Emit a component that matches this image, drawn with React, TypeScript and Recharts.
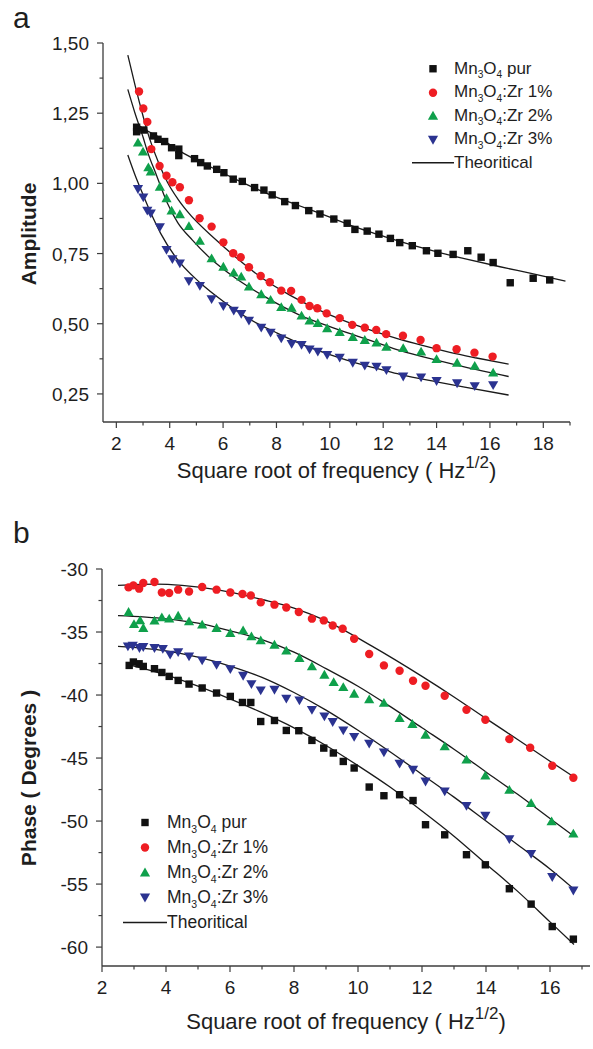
import React from "react";
import { ComposedChart, Scatter, Line, XAxis, YAxis, Legend, Label } from "recharts";

type Pt = [number, number];

// (a) amplitude vs sqrt(f)
const ampPur: Pt[] = [
  [2.76, 1.2], [2.76, 1.184], [3.03, 1.19], [3.39, 1.169], [3.56, 1.157], [3.81, 1.149],
  [4.07, 1.127], [4.34, 1.122], [4.34, 1.099], [4.93, 1.088], [5.16, 1.074], [5.41, 1.062],
  [5.76, 1.05], [6.03, 1.038], [6.38, 1.015], [6.72, 1.007], [7.18, 0.985], [7.53, 0.976],
  [7.84, 0.959], [8.31, 0.935], [8.71, 0.921], [9.21, 0.903], [9.63, 0.891], [10.15, 0.873],
  [10.65, 0.858], [10.94, 0.836], [11.4, 0.83], [11.84, 0.819], [12.27, 0.804], [12.62, 0.789],
  [13.09, 0.778], [13.62, 0.76], [14.05, 0.751], [14.62, 0.747], [15.17, 0.76], [15.67, 0.737],
  [16.12, 0.718], [16.76, 0.646], [17.62, 0.662], [18.24, 0.656],
];
const ampZr1: Pt[] = [
  [2.85, 1.327], [3.01, 1.267], [3.16, 1.219], [3.31, 1.122], [3.62, 1.062], [3.88, 1.027],
  [4.1, 1.004], [4.38, 0.986], [4.72, 0.94], [5.12, 0.876], [5.57, 0.846], [6.01, 0.79],
  [6.38, 0.751], [6.66, 0.737], [6.97, 0.701], [7.41, 0.67], [7.75, 0.648], [8.18, 0.618],
  [8.55, 0.617], [8.94, 0.585], [9.24, 0.563], [9.53, 0.555], [9.88, 0.537], [10.37, 0.52],
  [10.84, 0.496], [11.31, 0.486], [11.74, 0.478], [12.11, 0.463], [12.74, 0.457], [13.4, 0.442],
  [14.0, 0.413], [14.75, 0.409], [15.42, 0.397], [16.1, 0.383],
];
const ampZr2: Pt[] = [
  [2.81, 1.145], [3.0, 1.113], [3.2, 1.057], [3.29, 1.042], [3.63, 0.988], [3.88, 0.947],
  [4.07, 0.903], [4.38, 0.89], [4.72, 0.848], [5.13, 0.795], [5.57, 0.733], [6.01, 0.703],
  [6.4, 0.682], [6.68, 0.668], [6.97, 0.632], [7.43, 0.605], [7.78, 0.585], [8.18, 0.559],
  [8.57, 0.557], [8.94, 0.529], [9.24, 0.511], [9.55, 0.502], [9.9, 0.484], [10.37, 0.47],
  [10.86, 0.452], [11.31, 0.442], [11.75, 0.433], [12.12, 0.418], [12.75, 0.413], [13.42, 0.401],
  [14.0, 0.374], [14.77, 0.361], [15.43, 0.35], [16.12, 0.326],
];
const ampZr3: Pt[] = [
  [2.81, 0.98], [3.01, 0.95], [3.16, 0.903], [3.29, 0.893], [3.63, 0.844], [3.88, 0.763],
  [4.1, 0.73], [4.38, 0.715], [4.72, 0.652], [5.13, 0.635], [5.57, 0.588], [6.01, 0.563],
  [6.4, 0.547], [6.68, 0.535], [6.97, 0.511], [7.43, 0.486], [7.78, 0.468], [8.18, 0.448],
  [8.57, 0.428], [8.94, 0.425], [9.24, 0.409], [9.55, 0.401], [9.9, 0.389], [10.37, 0.379],
  [10.86, 0.361], [11.31, 0.351], [11.75, 0.347], [12.12, 0.335], [12.75, 0.312], [13.42, 0.309],
  [14.0, 0.296], [14.77, 0.288], [15.43, 0.278], [16.12, 0.281],
];
const ampFitPur: Pt[] = [
  [2.8, 1.21], [3.0, 1.196], [3.5, 1.17], [4.41, 1.113], [5.5, 1.06], [6.4, 1.018], [7.5, 0.97],
  [8.78, 0.923], [10.0, 0.88], [11.0, 0.843], [12.0, 0.812], [12.62, 0.793], [14.05, 0.755],
  [15.0, 0.733], [16.38, 0.703], [17.5, 0.68], [18.83, 0.652],
];
const ampFit1: Pt[] = [
  [2.43, 1.457], [2.7, 1.35], [3.0, 1.24], [3.16, 1.185], [3.59, 1.072], [3.91, 1.005], [4.3, 0.945],
  [4.66, 0.9], [5.72, 0.8], [6.5, 0.735], [7.5, 0.66], [8.5, 0.602], [9.5, 0.553], [10.5, 0.512],
  [11.5, 0.478], [12.5, 0.448], [13.5, 0.422], [14.5, 0.398], [15.5, 0.378], [16.7, 0.356],
];
const ampFit2: Pt[] = [
  [2.43, 1.335], [2.7, 1.25], [3.0, 1.165], [3.16, 1.115], [3.5, 1.03], [3.91, 0.93], [4.3, 0.86],
  [4.85, 0.798], [5.5, 0.735], [6.5, 0.66], [7.5, 0.6], [8.87, 0.531], [10.0, 0.49], [11.0, 0.457],
  [12.0, 0.425], [12.62, 0.405], [14.0, 0.37], [15.0, 0.347], [16.7, 0.312],
];
const ampFit3: Pt[] = [
  [2.43, 1.101], [2.7, 1.03], [3.0, 0.96], [3.29, 0.895], [3.66, 0.822], [4.2, 0.74], [5.16, 0.644],
  [6.0, 0.58], [7.03, 0.514], [8.0, 0.468], [8.87, 0.43], [10.0, 0.39], [11.0, 0.36], [12.0, 0.335],
  [12.62, 0.32], [14.0, 0.293], [15.0, 0.275], [16.7, 0.246],
];
const ampXTicks = [2, 3, 4, 5, 6, 7, 8, 9, 10, 11, 12, 13, 14, 15, 16, 17, 18, 19];
const ampYTicks = [0.25, 0.375, 0.5, 0.625, 0.75, 0.875, 1.0, 1.125, 1.25, 1.375, 1.5];

// (b) phase vs sqrt(f)
const phPur: Pt[] = [
  [2.85, -37.65], [2.98, -37.38], [3.16, -37.52], [3.29, -37.73], [3.64, -37.91], [3.87, -38.21],
  [4.1, -38.52], [4.38, -38.84], [4.72, -39.13], [5.13, -39.44], [5.58, -39.84], [6.01, -40.11],
  [6.39, -40.59], [6.65, -40.59], [6.96, -42.1], [7.39, -42.02], [7.76, -42.81], [8.15, -42.83],
  [8.56, -43.6], [8.93, -44.21], [9.23, -44.6], [9.54, -45.27], [9.88, -45.79], [10.35, -47.3],
  [10.81, -47.99], [11.3, -47.91], [11.72, -48.37], [12.11, -50.29], [12.71, -51.09], [13.39, -52.67],
  [13.98, -53.47], [14.73, -55.37], [15.41, -56.59], [16.07, -58.37], [16.73, -59.37],
];
const phZr1: Pt[] = [
  [2.83, -31.46], [2.98, -31.3], [3.16, -31.56], [3.29, -31.11], [3.64, -31.03], [3.87, -31.86],
  [4.1, -31.9], [4.38, -31.64], [4.72, -31.78], [5.13, -31.43], [5.58, -31.64], [6.01, -31.86],
  [6.39, -31.98], [6.65, -32.1], [6.96, -32.65], [7.39, -32.83], [7.76, -33.05], [8.15, -33.41],
  [8.56, -33.94], [8.93, -34.08], [9.21, -34.48], [9.52, -34.74], [9.88, -35.53], [10.35, -36.75],
  [10.81, -37.65], [11.3, -38.07], [11.72, -38.87], [12.11, -39.26], [12.71, -40.06], [13.39, -41.17],
  [13.98, -41.96], [14.73, -43.5], [15.38, -44.18], [16.07, -45.61], [16.73, -46.56],
];
const phZr2: Pt[] = [
  [2.83, -33.41], [3.0, -34.37], [3.19, -34.08], [3.29, -34.68], [3.64, -34.1], [3.87, -33.84],
  [4.1, -33.94], [4.38, -33.71], [4.72, -34.16], [5.13, -34.42], [5.58, -34.68], [6.01, -35.08],
  [6.41, -34.87], [6.67, -35.35], [6.96, -35.67], [7.39, -36.01], [7.76, -36.48], [8.17, -37.06],
  [8.56, -37.73], [8.95, -38.39], [9.24, -38.97], [9.54, -39.37], [9.88, -39.9], [10.35, -40.35],
  [10.81, -40.63], [11.3, -41.83], [11.7, -42.3], [12.11, -43.15], [12.71, -44.08], [13.39, -45.13],
  [13.98, -46.4], [14.73, -47.52], [15.41, -48.57], [16.05, -50.03], [16.73, -51.0],
];
const phZr3: Pt[] = [
  [2.81, -36.14], [2.96, -36.09], [3.17, -36.27], [3.29, -36.19], [3.64, -36.27], [3.9, -36.33],
  [4.13, -36.8], [4.38, -36.59], [4.72, -36.94], [5.13, -37.25], [5.58, -37.6], [6.01, -37.94],
  [6.41, -38.47], [6.67, -39.13], [6.96, -39.63], [7.39, -39.58], [7.76, -40.29], [8.17, -40.43],
  [8.56, -41.17], [8.95, -41.7], [9.21, -42.14], [9.54, -42.81], [9.88, -43.32], [10.35, -43.86],
  [10.81, -44.55], [11.3, -45.45], [11.72, -45.93], [12.11, -46.86], [12.71, -47.65], [13.39, -48.79],
  [13.98, -49.58], [14.73, -51.43], [15.41, -52.6], [16.07, -54.44], [16.73, -55.51],
];
const phFitPur: Pt[] = [
  [2.85, -37.6], [4, -38.4], [5, -39.3], [6, -40.3], [7, -41.4], [8, -42.6], [9, -44.0], [10, -45.6],
  [11, -47.3], [12, -49.2], [13, -51.2], [14, -53.4], [15, -55.6], [16, -58.0], [16.75, -59.8],
];
const phFit1: Pt[] = [
  [2.5, -31.3], [3.7, -31.2], [4.5, -31.3], [5.58, -31.64], [7.03, -32.44], [8.0, -33.1], [8.9, -34.0],
  [10.45, -36.14], [12.0, -38.52], [13.0, -40.15], [13.98, -41.83], [15.0, -43.55], [16.0, -45.25],
  [16.75, -46.5],
];
const phFit2: Pt[] = [
  [2.5, -33.7], [4, -33.95], [5, -34.3], [6, -34.9], [7, -35.6], [8, -36.6], [9, -37.9], [10, -39.3],
  [11, -40.9], [12, -42.6], [13, -44.3], [14, -46.1], [15, -47.9], [16, -49.8], [16.75, -51.2],
];
const phFit3: Pt[] = [
  [2.5, -36.14], [4, -36.5], [5, -37.0], [6, -37.7], [7, -38.6], [8, -39.8], [9, -41.2], [10, -42.8],
  [11, -44.5], [12, -46.3], [13, -48.1], [14, -50.0], [15, -51.9], [16, -53.8], [16.75, -55.4],
];
const phXTicks = [2, 3, 4, 5, 6, 7, 8, 9, 10, 11, 12, 13, 14, 15, 16, 17];
const phYTicks = [-60, -57.5, -55, -52.5, -50, -47.5, -45, -42.5, -40, -37.5, -35, -32.5, -30];

const FONT = "'Liberation Sans', Arial, sans-serif";
const INK = "#1e1e1e";
const FRAME = "#3c3c3c";
const FIT = "#1a1a1a";

type Kind = "square" | "circle" | "up" | "down";
const SERIES: { suffix: string; kind: Kind; color: string }[] = [
  { suffix: " pur", kind: "square", color: "#111111" },
  { suffix: ":Zr 1%", kind: "circle", color: "#ee1d23" },
  { suffix: ":Zr 2%", kind: "up", color: "#0fa04b" },
  { suffix: ":Zr 3%", kind: "down", color: "#2b3390" },
];

const xy = (pts: Pt[]) => pts.map(([x, y]) => ({ x, y }));

function Marker({ kind, cx, cy, color }: { kind: Kind; cx: number; cy: number; color: string }) {
  if (kind === "square") return <rect x={cx - 3.7} y={cy - 3.7} width={7.4} height={7.4} fill={color} />;
  if (kind === "circle") return <circle cx={cx} cy={cy} r={4.2} fill={color} />;
  if (kind === "up")
    return <polygon points={`${cx},${cy - 4.9} ${cx + 5.1},${cy + 3.9} ${cx - 5.1},${cy + 3.9}`} fill={color} />;
  return <polygon points={`${cx},${cy + 4.9} ${cx + 5.1},${cy - 3.9} ${cx - 5.1},${cy - 3.9}`} fill={color} />;
}

const shapeOf = (kind: Kind, color: string) => (p: any) =>
  <Marker kind={kind} cx={p.cx} cy={p.cy} color={color} />;

function Formula({ suffix }: { suffix: string }) {
  const sub: React.CSSProperties = { fontSize: "0.6em", position: "relative", top: "0.45em", lineHeight: 0 };
  return (
    <span>
      Mn<span style={sub}>3</span>O<span style={sub}>4</span>
      {suffix}
    </span>
  );
}

function LegendBox({ fontSize, rowH, cellW }: { fontSize: number; rowH: number; cellW: number }) {
  return (
    <div style={{ fontFamily: FONT, fontSize, color: INK, whiteSpace: "nowrap" }}>
      {SERIES.map((s) => (
        <div key={s.suffix} style={{ display: "flex", alignItems: "center", height: rowH }}>
          <svg width={cellW} height={rowH}>
            <Marker kind={s.kind} cx={cellW / 2} cy={rowH / 2} color={s.color} />
          </svg>
          <Formula suffix={s.suffix} />
        </div>
      ))}
      <div style={{ display: "flex", alignItems: "center", height: rowH }}>
        <svg width={cellW} height={rowH}>
          <line x1={0} x2={cellW} y1={rowH / 2} y2={rowH / 2} stroke={FIT} strokeWidth={1.3} />
        </svg>
        <span>Theoritical</span>
      </div>
    </div>
  );
}

function XTick(props: any) {
  const { x, y, payload } = props;
  const v = payload.value as number;
  const major = v % 2 === 0;
  return (
    <g>
      <line x1={x} x2={x} y1={y} y2={y + (major ? 6 : 3.5)} stroke={FRAME} strokeWidth={1.2} />
      {major && (
        <text x={x} y={y + 28} textAnchor="middle" fontSize={19} fontFamily={FONT} fill={INK}>
          {v}
        </text>
      )}
    </g>
  );
}

function YTick(props: any) {
  const { x, y, payload, step, fmt } = props;
  const v = payload.value as number;
  const major = Math.abs(v / step - Math.round(v / step)) < 1e-6;
  return (
    <g>
      <line x1={x} x2={x - (major ? 6 : 3.5)} y1={y} y2={y} stroke={FRAME} strokeWidth={1.2} />
      {major && (
        <text x={x - 14} y={y + 7} textAnchor="end" fontSize={19} fontFamily={FONT} fill={INK}>
          {fmt(v)}
        </text>
      )}
    </g>
  );
}

function XTitle(props: any) {
  const { viewBox, dy } = props;
  const cx = viewBox.x + viewBox.width / 2;
  return (
    <text x={cx} y={viewBox.y + dy} textAnchor="middle" fontSize={22} fontFamily={FONT} fill={INK}>
      Square root of frequency ( Hz
      <tspan dy={-10} fontSize={17}>1/2</tspan>
      <tspan dy={10}>)</tspan>
    </text>
  );
}

function YTitle(props: any) {
  const { cx, cy, text } = props;
  return (
    <text
      x={cx}
      y={cy}
      transform={`rotate(-90 ${cx} ${cy})`}
      textAnchor="middle"
      dominantBaseline="central"
      fontSize={21}
      fontWeight="bold"
      fontFamily={FONT}
      fill={INK}
    >
      {text}
    </text>
  );
}

const axisLine = { stroke: FRAME, strokeWidth: 1.3 };

function Panel(props: {
  height: number;
  margin: { top: number; right: number; bottom: number; left: number };
  xDomain: [number, number];
  yDomain: [number, number];
  xTicks: number[];
  yTicks: number[];
  yStep: number;
  yFmt: (v: number) => string;
  yTitle: string;
  yTitleY: number;
  xTitleDy: number;
  fits: Pt[][];
  points: Pt[][];
  legend: { left: number; top: number; fontSize: number; rowH: number; cellW: number };
}) {
  const { legend } = props;
  return (
    <ComposedChart width={593} height={props.height} margin={props.margin}>
      <XAxis
        type="number"
        dataKey="x"
        domain={props.xDomain}
        ticks={props.xTicks}
        interval={0}
        allowDataOverflow
        tickLine={false}
        tickSize={0}
        tickMargin={0}
        tick={<XTick />}
        height={40}
        axisLine={axisLine}
      >
        <Label content={<XTitle dy={props.xTitleDy} />} />
      </XAxis>
      <YAxis
        type="number"
        dataKey="y"
        domain={props.yDomain}
        ticks={props.yTicks}
        interval={0}
        allowDataOverflow
        tickLine={false}
        tickSize={0}
        tickMargin={0}
        tick={<YTick step={props.yStep} fmt={props.yFmt} />}
        width={60}
        axisLine={axisLine}
      >
        <Label content={<YTitle cx={28} cy={props.yTitleY} text={props.yTitle} />} />
      </YAxis>
      <XAxis xAxisId="top" orientation="top" type="number" domain={props.xDomain} tick={false} tickLine={false} height={0} axisLine={axisLine} />
      <YAxis yAxisId="right" orientation="right" type="number" domain={props.yDomain} tick={false} tickLine={false} width={0} axisLine={axisLine} />
      {props.fits.map((f, i) => (
        <Line
          key={`fit${i}`}
          data={xy(f)}
          dataKey="y"
          type="monotone"
          stroke={FIT}
          strokeWidth={1.3}
          dot={false}
          activeDot={false}
          legendType="none"
          isAnimationActive={false}
        />
      ))}
      {props.points.map((p, i) => (
        <Scatter
          key={`pts${i}`}
          data={xy(p)}
          dataKey="y"
          shape={shapeOf(SERIES[i].kind, SERIES[i].color)}
          isAnimationActive={false}
        />
      ))}
      <Legend
        layout="vertical"
        align="center"
        verticalAlign="middle"
        wrapperStyle={{ left: legend.left, top: legend.top, width: "auto" }}
        content={() => <LegendBox fontSize={legend.fontSize} rowH={legend.rowH} cellW={legend.cellW} />}
      />
    </ComposedChart>
  );
}

export default function App() {
  return (
    <div style={{ position: "absolute", left: 0, top: 0, width: 593, height: 1049, background: "#fff" }}>
      <svg width={593} height={1049} style={{ position: "absolute", left: 0, top: 0 }}>
        <text x={13} y={28} fontSize={30} fontFamily={FONT} fill={INK}>a</text>
        <text x={13} y={543} fontSize={30} fontFamily={FONT} fill={INK}>b</text>
      </svg>
      <div style={{ position: "absolute", left: 0, top: 0 }}>
        <Panel
          height={520}
          margin={{ top: 43, right: 23, bottom: 58, left: 43 }}
          xDomain={[1.5, 19]}
          yDomain={[0.15, 1.5]}
          xTicks={ampXTicks}
          yTicks={ampYTicks}
          yStep={0.25}
          yFmt={(v) => v.toFixed(2).replace(".", ",")}
          yTitle="Amplitude"
          yTitleY={234}
          xTitleDy={56}
          fits={[ampFitPur, ampFit1, ampFit2, ampFit3]}
          points={[ampPur, ampZr1, ampZr2, ampZr3]}
          legend={{ left: 412, top: 57, fontSize: 17, rowH: 23.5, cellW: 42 }}
        />
      </div>
      <div style={{ position: "absolute", left: 0, top: 520 }}>
        <Panel
          height={529}
          margin={{ top: 49, right: 3, bottom: 43, left: 42 }}
          xDomain={[2, 17.25]}
          yDomain={[-61.5, -30]}
          xTicks={phXTicks}
          yTicks={phYTicks}
          yStep={5}
          yFmt={(v) => `${v}`}
          yTitle="Phase ( Degrees )"
          yTitleY={258}
          xTitleDy={63}
          fits={[phFitPur, phFit1, phFit2, phFit3]}
          points={[phPur, phZr1, phZr2, phZr3]}
          legend={{ left: 123, top: 290, fontSize: 17.5, rowH: 25, cellW: 44 }}
        />
      </div>
    </div>
  );
}
